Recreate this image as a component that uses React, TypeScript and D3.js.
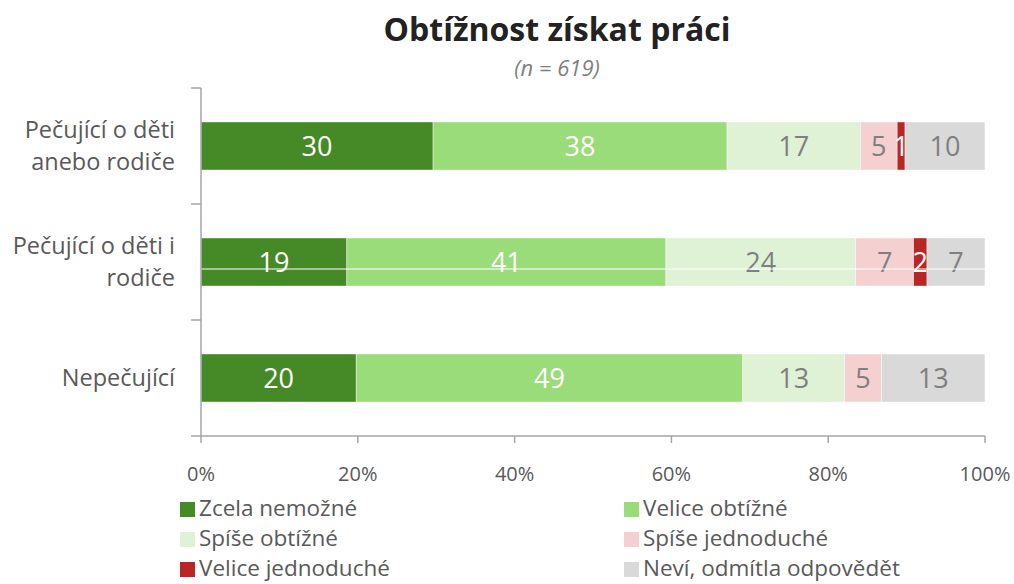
import React from "react";
import * as d3 from "d3";

const categories = ["Pečující o děti anebo rodiče", "Pečující o děti i rodiče", "Nepečující"];
const categoryLines = [["Pečující o děti", "anebo rodiče"], ["Pečující o děti i", "rodiče"], ["Nepečující"]];
const seriesNames = ["Zcela nemožné", "Velice obtížné", "Spíše obtížné", "Spíše jednoduché", "Velice jednoduché", "Neví, odmítla odpovědět"];
const zcelaNemozne = [29.6, 18.6, 19.8];
const veliceObtizne = [37.5, 40.7, 49.3];
const spiseObtizne = [17.0, 24.2, 13.0];
const spiseJednoduche = [4.7, 7.4, 4.7];
const veliceJednoduche = [1.0, 1.7, 0];
const nevi = [10.2, 7.4, 13.2];
const seriesValues = [zcelaNemozne, veliceObtizne, spiseObtizne, spiseJednoduche, veliceJednoduche, nevi];
const colors = ["#468a27", "#9adc7a", "#dff2d6", "#f4d0d1", "#ba2625", "#d9d9d9"];
const labelColors = ["#ffffff", "#ffffff", "#7f7f7f", "#7f7f7f", "#ffffff", "#7f7f7f"];
const xTicks = [0, 20, 40, 60, 80, 100];

const W = 1014, H = 584;
const FONT = "'Open Sans', 'Noto Sans', sans-serif";

export default function App() {
  const x = d3.scaleLinear().domain([0, 100]).range([201, 985]);
  const y = d3.scaleBand().domain(categories).range([88, 436]).paddingInner(0.586).paddingOuter(0.293);
  const stack = d3.stack<number>().keys(seriesNames.map((_, i) => String(i))).value((d, k) => seriesValues[+k][d]);
  const stacked = stack(categories.map((_, i) => i));
  const axisColor = "#a6a6a6";
  const bandStep = y.step();
  const boundaries = d3.range(categories.length + 1).map(i => 88 + i * bandStep);

  return (
    <svg width={W} height={H} style={{ position: "absolute", left: 0, top: 0, background: "#fff" }} fontFamily={FONT}>
      <text x={557} y={41} textAnchor="middle" fontSize={32} fontWeight="bold" fill="#222">Obtížnost získat práci</text>
      <text x={557} y={76} textAnchor="middle" fontSize={22} fontStyle="italic" fill="#7f7f7f">(n = 619)</text>

      {stacked.map((layer, si) => (
        <g key={si}>
          {layer.map((seg, ci) => {
            const x0 = x(seg[0]), x1 = x(seg[1]);
            const yy = y(categories[ci])!;
            const v = seriesValues[si][ci];
            if (v <= 0) return null;
            return (
              <g key={ci}>
                <rect x={x0} y={yy} width={x1 - x0} height={y.bandwidth()} fill={colors[si]} stroke="#ffffff" strokeOpacity={0.6} strokeWidth={0.7} />
                <text x={(x0 + x1) / 2} y={yy + y.bandwidth() / 2 + 10} textAnchor="middle" fontSize={27} fill={labelColors[si]}>{Math.round(v)}</text>
              </g>
            );
          })}
        </g>
      ))}

      <line x1={201} x2={985} y1={269} y2={269} stroke="#ffffff" strokeWidth={1.2} />

      <line x1={201} x2={201} y1={88} y2={436} stroke={axisColor} strokeWidth={1.5} />
      {boundaries.map((b, i) => (
        <line key={i} x1={191} x2={201} y1={b} y2={b} stroke={axisColor} strokeWidth={1.5} />
      ))}
      <line x1={201} x2={985} y1={436} y2={436} stroke={axisColor} strokeWidth={1.5} />
      {xTicks.map(t => (
        <g key={t}>
          <line x1={x(t)} x2={x(t)} y1={436} y2={443} stroke={axisColor} strokeWidth={1.5} />
          <text x={x(t)} y={481} textAnchor="middle" fontSize={20} fill="#595959">{t}%</text>
        </g>
      ))}

      {categories.map((c, i) => {
        const lines = categoryLines[i];
        const cy = y(c)! + y.bandwidth() / 2;
        const lh = 32;
        return (
          <text key={c} textAnchor="end" fontSize={23.5} fill="#595959">
            {lines.map((l, j) => (
              <tspan key={j} x={175} y={cy + 8 + (j - (lines.length - 1) / 2) * lh}>{l}</tspan>
            ))}
          </text>
        );
      })}

      {seriesNames.map((s, i) => {
        const col = i % 2, row = Math.floor(i / 2);
        const sx = col === 0 ? 180 : 624;
        const cy = 509 + row * 30;
        return (
          <g key={s}>
            <rect x={sx} y={cy - 7} width={15} height={15} fill={colors[i]} />
            <text x={sx + 19} y={cy + 7} fontSize={22.5} fill="#595959">{s}</text>
          </g>
        );
      })}
    </svg>
  );
}
